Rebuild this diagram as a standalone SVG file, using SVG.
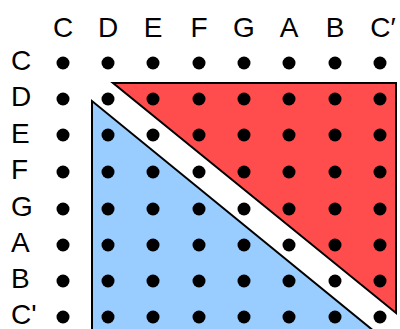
<svg xmlns="http://www.w3.org/2000/svg" width="400" height="329" viewBox="0 0 400 329">
<style>
text{font-family:"Liberation Sans",Arial,sans-serif;font-size:28px;fill:#000}
.col{text-anchor:middle}
.tri{stroke:#000;stroke-width:2;stroke-linejoin:miter}
</style>
<defs><circle id="d" r="6.5" fill="#000"/></defs>
<rect width="400" height="329" fill="#fff"/>
<g id="red-region"><polygon class="tri" fill="#ff4d4d" points="113,83 396,83 396,313"/></g>
<g id="blue-region"><polygon class="tri" fill="#99ccff" points="92,101 92,345 391,345"/></g>
<g id="col-labels">
<text class="col" x="63" y="37">C</text>
<text class="col" x="108" y="37">D</text>
<text class="col" x="153" y="37">E</text>
<text class="col" x="199" y="37">F</text>
<text class="col" x="244" y="37">G</text>
<text class="col" x="289" y="37">A</text>
<text class="col" x="335" y="37">B</text>
<text class="col" x="383" y="37">C′</text>
</g>
<g id="row-labels">
<text x="11" y="70">C</text>
<text x="11" y="106">D</text>
<text x="11" y="143">E</text>
<text x="11" y="179">F</text>
<text x="11" y="216">G</text>
<text x="11" y="252">A</text>
<text x="11" y="288">B</text>
<text x="11" y="324">C'</text>
</g>
<g id="dots">
<use href="#d" x="63" y="63"/><use href="#d" x="108" y="63"/><use href="#d" x="153" y="63"/><use href="#d" x="199" y="63"/><use href="#d" x="244" y="63"/><use href="#d" x="289" y="63"/><use href="#d" x="335" y="63"/><use href="#d" x="380" y="63"/>
<use href="#d" x="63" y="99"/><use href="#d" x="108" y="99"/><use href="#d" x="153" y="99"/><use href="#d" x="199" y="99"/><use href="#d" x="244" y="99"/><use href="#d" x="289" y="99"/><use href="#d" x="335" y="99"/><use href="#d" x="380" y="99"/>
<use href="#d" x="63" y="135"/><use href="#d" x="108" y="135"/><use href="#d" x="153" y="135"/><use href="#d" x="199" y="135"/><use href="#d" x="244" y="135"/><use href="#d" x="289" y="135"/><use href="#d" x="335" y="135"/><use href="#d" x="380" y="135"/>
<use href="#d" x="63" y="172"/><use href="#d" x="108" y="172"/><use href="#d" x="153" y="172"/><use href="#d" x="199" y="172"/><use href="#d" x="244" y="172"/><use href="#d" x="289" y="172"/><use href="#d" x="335" y="172"/><use href="#d" x="380" y="172"/>
<use href="#d" x="63" y="209"/><use href="#d" x="108" y="209"/><use href="#d" x="153" y="209"/><use href="#d" x="199" y="209"/><use href="#d" x="244" y="209"/><use href="#d" x="289" y="209"/><use href="#d" x="335" y="209"/><use href="#d" x="380" y="209"/>
<use href="#d" x="63" y="245"/><use href="#d" x="108" y="245"/><use href="#d" x="153" y="245"/><use href="#d" x="199" y="245"/><use href="#d" x="244" y="245"/><use href="#d" x="289" y="245"/><use href="#d" x="335" y="245"/><use href="#d" x="380" y="245"/>
<use href="#d" x="63" y="281"/><use href="#d" x="108" y="281"/><use href="#d" x="153" y="281"/><use href="#d" x="199" y="281"/><use href="#d" x="244" y="281"/><use href="#d" x="289" y="281"/><use href="#d" x="335" y="281"/><use href="#d" x="380" y="281"/>
<use href="#d" x="63" y="317"/><use href="#d" x="108" y="317"/><use href="#d" x="153" y="317"/><use href="#d" x="199" y="317"/><use href="#d" x="244" y="317"/><use href="#d" x="289" y="317"/><use href="#d" x="335" y="317"/><use href="#d" x="380" y="317"/>
</g>
</svg>
